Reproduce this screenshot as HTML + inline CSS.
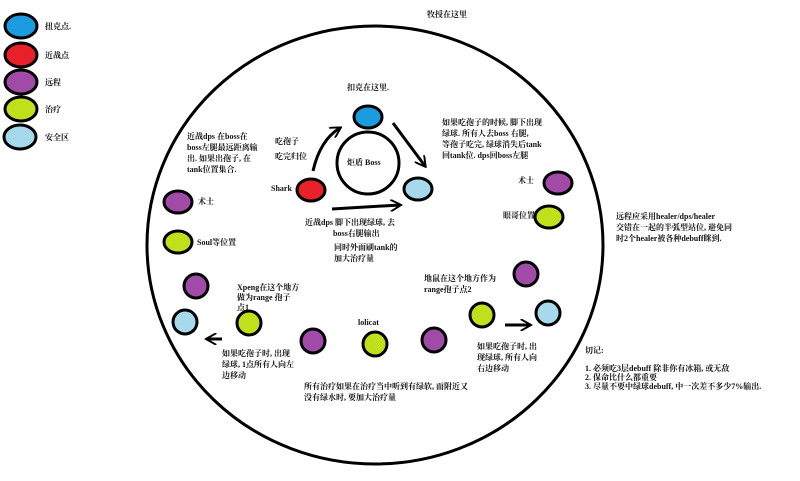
<!DOCTYPE html>
<html><head><meta charset="utf-8"><style>
body{margin:0;background:#fff;width:800px;height:476px;overflow:hidden}
svg text{font-family:"Liberation Serif","Noto Serif CJK SC",serif;font-size:8px;font-weight:bold;fill:#111}
</style></head><body>
<svg width="800" height="476" viewBox="0 0 800 476" xmlns="http://www.w3.org/2000/svg">
<defs><marker id="a" viewBox="0 0 10 10" refX="8" refY="5" markerWidth="4" markerHeight="4" orient="auto" markerUnits="strokeWidth"><path d="M0,0 L9,5 L0,10" fill="none" stroke="#000" stroke-width="1.6"/></marker></defs>
<ellipse cx="375" cy="245" rx="228" ry="219" fill="none" stroke="#000" stroke-width="3"/>
<circle cx="368" cy="163" r="31" fill="none" stroke="#000" stroke-width="3"/>
<g stroke="#000" stroke-width="3">
<ellipse cx="21" cy="26" rx="16" ry="12" fill="#1b9be0"/>
<ellipse cx="21" cy="55" rx="16" ry="12" fill="#e8202a"/>
<ellipse cx="21" cy="82" rx="16" ry="12" fill="#a24aa8"/>
<ellipse cx="21" cy="109" rx="16" ry="12" fill="#bfe01a"/>
<ellipse cx="20" cy="137" rx="16" ry="12" fill="#a6d9ec"/>
<ellipse cx="368" cy="117" rx="14" ry="11" fill="#1b9be0"/>
<ellipse cx="311" cy="190" rx="14" ry="11" fill="#e8202a"/>
<ellipse cx="418" cy="189" rx="14" ry="11" fill="#a6d9ec"/>
<ellipse cx="178" cy="202" rx="14" ry="11" fill="#a24aa8"/>
<ellipse cx="178" cy="242" rx="14" ry="11" fill="#bfe01a"/>
<ellipse cx="196" cy="286" rx="12" ry="12" fill="#a24aa8"/>
<ellipse cx="185" cy="322" rx="12" ry="12" fill="#a6d9ec"/>
<ellipse cx="249" cy="323" rx="12" ry="12" fill="#bfe01a"/>
<ellipse cx="313" cy="341" rx="12" ry="12" fill="#a24aa8"/>
<ellipse cx="375" cy="344" rx="12" ry="12" fill="#bfe01a"/>
<ellipse cx="434" cy="340" rx="12" ry="12" fill="#a24aa8"/>
<ellipse cx="482" cy="315" rx="12" ry="12" fill="#bfe01a"/>
<ellipse cx="548" cy="313" rx="12" ry="12" fill="#a6d9ec"/>
<ellipse cx="526" cy="274" rx="12" ry="12" fill="#a24aa8"/>
<ellipse cx="558" cy="183" rx="14" ry="11" fill="#a24aa8"/>
<ellipse cx="549" cy="217" rx="14" ry="11" fill="#bfe01a"/>
</g>
<g stroke="#000" stroke-width="3" fill="none" marker-end="url(#a)">
<path d="M313,171 Q320,140 340,128"/>
<path d="M393,123 L425,166"/>
<path d="M332,209 L400,205"/>
<path d="M222,339 L207,339"/>
<path d="M505,325 L530,325"/>
</g>
<text x="45" y="29">扭克点.</text>
<text x="45" y="58">近战点</text>
<text x="45" y="85">远程</text>
<text x="45" y="112">治疗</text>
<text x="45" y="140">安全区</text>
<text x="427" y="17">牧授在这里</text>
<text x="347" y="90">扣克在这里.</text>
<text x="347" y="165">炬盾 Boss</text>
<text x="275" y="144">吃孢子</text>
<text x="275" y="159">吃完归位</text>
<text x="271" y="191">Shark</text>
<text x="187" y="139">近战dps 在boss在</text>
<text x="187" y="150">boss左腿最远距离输</text>
<text x="187" y="161">出. 如果出孢子, 在</text>
<text x="187" y="172">tank位置集合.</text>
<text x="442" y="125">如果吃孢子的时候, 脚下出现</text>
<text x="442" y="136">绿球. 所有人去boss 右腿,</text>
<text x="442" y="147">等孢子吃完, 绿球消失后tank</text>
<text x="442" y="158">回tank位. dps回boss左腿</text>
<text x="305" y="225">近战dps 脚下出现绿球, 去</text>
<text x="333" y="236">boss右腿输出</text>
<text x="334" y="250">同时外面刷tank的</text>
<text x="334" y="261">加大治疗量</text>
<text x="198" y="204">术士</text>
<text x="197" y="245">Soul等位置</text>
<text x="518" y="183">术士</text>
<text x="503" y="218">眼哥位置</text>
<text x="616" y="219">远程应采用healer/dps/healer</text>
<text x="616" y="230">交错在一起的半弧型站位, 避免同</text>
<text x="616" y="241">时2个healer被各种debuff眯到.</text>
<text x="237" y="290">Xpeng在这个地方</text>
<text x="237" y="300">做为range 孢子</text>
<text x="237" y="310">点1</text>
<text x="424" y="281">地鼠在这个地方作为</text>
<text x="424" y="292">range孢子点2</text>
<text x="358" y="325">lolicat</text>
<text x="222" y="356">如果吃孢子时, 出现</text>
<text x="222" y="367">绿球, 1点所有人向左</text>
<text x="222" y="378">边移动</text>
<text x="477" y="349">如果吃孢子时, 出</text>
<text x="477" y="360">现绿球, 所有人向</text>
<text x="477" y="371">右边移动</text>
<text x="304" y="389">所有治疗如果在治疗当中听到有绿软, 而附近又</text>
<text x="304" y="400">没有绿水时, 要加大治疗量</text>
<text x="585" y="353">切记:</text>
<text x="585" y="371">1. 必须吃3层debuff 除非你有冰箱, 或无敌</text>
<text x="585" y="380">2. 保命比什么都重要</text>
<text x="585" y="389">3. 尽量不要中绿球debuff, 中一次差不多少7%输出.</text>
</svg>
</body></html>
